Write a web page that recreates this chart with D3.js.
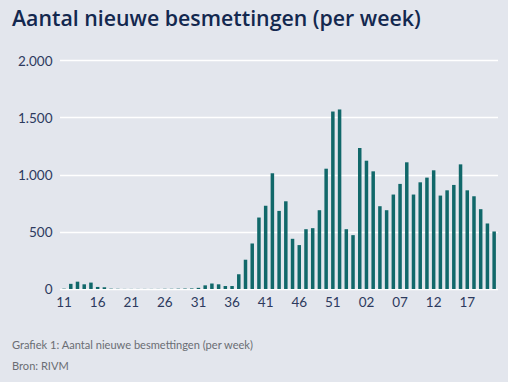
<!DOCTYPE html>
<html><head><meta charset="utf-8">
<script src="https://cdn.jsdelivr.net/npm/d3@7"></script>
<style>
html,body{margin:0;padding:0;background:#e3e6ed;}
svg{display:block;}
</style></head>
<body>
<script>
const weeks = [
 "2020-11","2020-12","2020-13","2020-14","2020-15","2020-16","2020-17","2020-18","2020-19","2020-20",
 "2020-21","2020-22","2020-23","2020-24","2020-25","2020-26","2020-27","2020-28","2020-29","2020-30",
 "2020-31","2020-32","2020-33","2020-34","2020-35","2020-36","2020-37","2020-38","2020-39","2020-40",
 "2020-41","2020-42","2020-43","2020-44","2020-45","2020-46","2020-47","2020-48","2020-49","2020-50",
 "2020-51","2020-52","2020-53","2021-00","2021-01","2021-02","2021-03","2021-04","2021-05","2021-06",
 "2021-07","2021-08","2021-09","2021-10","2021-11","2021-12","2021-13","2021-14","2021-15","2021-16",
 "2021-17","2021-18","2021-19","2021-20","2021-21"
];
const cases = [
 3,45,64,41,56,18,15,3,2,1,
 1,1,1,1,1,2,2,3,4,5,
 10,32,48,41,26,26,129,256,398,625,
 728,1012,683,767,439,384,523,532,689,1052,
 1552,1570,523,471,1233,1122,1029,724,689,826,
 919,1108,826,933,974,1038,817,863,910,1090,
 863,811,698,573,503
];
const tickLabels = ["11","16","21","26","31","36","41","46","51","02","07","12","17"];
const yTicks = [0,500,1000,1500,2000];
const title = "Aantal nieuwe besmettingen (per week)";
const caption = "Grafiek 1: Aantal nieuwe besmettingen (per week)";
const source = "Bron: RIVM";

const W = 508, H = 382;
const svg = d3.select("body").append("svg").attr("width", W).attr("height", H);
svg.append("rect").attr("width", W).attr("height", H).attr("fill", "#e3e6ed");

const x = d3.scaleBand().domain(weeks).range([60.7, 497.5]).paddingInner(0.48).paddingOuter(0.24);
const y = d3.scaleLinear().domain([0, 2000]).range([289, 60.3]);

// gridlines
svg.append("g").selectAll("line").data(yTicks).join("line")
  .attr("x1", 60).attr("x2", 498)
  .attr("y1", d => Math.round(y(d)) + 0.5).attr("y2", d => Math.round(y(d)) + 0.5)
  .attr("stroke", "#ffffff").attr("stroke-width", 1.4);

// y axis labels
const yAxis = d3.axisLeft(y).tickValues(yTicks).tickSize(0).tickPadding(0)
  .tickFormat(d => d3.format(",")(d).replace(/,/g, "."));
const gy = svg.append("g").attr("transform", "translate(52.5,0)").call(yAxis);
gy.select(".domain").remove();
gy.selectAll("text").attr("font-family", "Lato, 'Open Sans', sans-serif").attr("font-size", 13.5)
  .attr("fill", "#2d3a5e").attr("dy", "0.35em");

// bars
svg.append("g").selectAll("rect").data(weeks).join("rect")
  .attr("x", d => x(d)).attr("width", x.bandwidth())
  .attr("y", (d, i) => y(cases[i])).attr("height", (d, i) => y(0) - y(cases[i]))
  .attr("fill", "#11686a");

// x axis labels
const tickWeeks = weeks.filter((d, i) => i % 5 === 0);
const xAxis = d3.axisBottom(x).tickValues(tickWeeks).tickSize(0).tickPadding(0)
  .tickFormat(d => tickLabels[weeks.indexOf(d) / 5]);
const gx = svg.append("g").attr("transform", "translate(0,297)").call(xAxis);
gx.select(".domain").remove();
gx.selectAll("text").attr("font-family", "Lato, 'Open Sans', sans-serif").attr("font-size", 13.5)
  .attr("fill", "#2d3a5e").attr("dy", "0.71em");

// title
const t = svg.append("text").attr("x", 12).attr("y", 26)
  .attr("font-family", "'Open Sans', 'Noto Sans', sans-serif").attr("font-weight", 600)
  .attr("font-size", 20).attr("fill", "#13284f").text(title);
const tw = t.node().getComputedTextLength();
t.attr("font-size", 20 * 409 / tw);

// caption
const c = svg.append("text").attr("x", 12).attr("y", 349)
  .attr("font-family", "Lato, 'Open Sans', sans-serif").attr("font-size", 12)
  .attr("fill", "#6a6d73").text(caption);
const cw = c.node().getComputedTextLength();
c.attr("font-size", 12 * 241 / cw);
svg.append("text").attr("x", 12).attr("y", 370)
  .attr("font-family", "Lato, 'Open Sans', sans-serif").attr("font-size", 12 * 241 / cw)
  .attr("fill", "#6a6d73").text(source);
</script>
</body></html>
